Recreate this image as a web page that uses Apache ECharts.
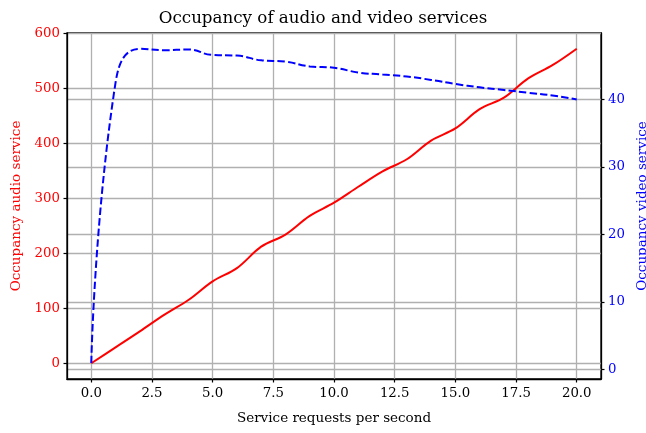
<!DOCTYPE html>
<html>
<head>
<meta charset="utf-8">
<script src="https://cdn.jsdelivr.net/npm/echarts@6/dist/echarts.min.js"></script>
<style>
  html, body { margin: 0; padding: 0; background: #fff; }
  #chart { width: 646px; height: 433px; }
</style>
</head>
<body>
<div id="chart"></div>
<script>
// Service request rate (requests per second)
const requestRates = [0, 1, 2, 3, 4, 5, 6, 7, 8, 9, 10, 11, 12, 13, 14, 15, 16, 17, 18, 19, 20];
// Occupancy of the audio service (left axis)
const audioOccupancy = [0, 29, 58, 88, 115, 149, 173, 212, 234, 268, 292, 321, 349, 371, 405, 427, 462, 483, 518, 542, 572];
// Occupancy of the video service (right axis)
const videoOccupancy = [0.95, 42.5, 47.5, 47.3, 47.4, 46.6, 46.5, 45.8, 45.6, 44.9, 44.7, 44.0, 43.7, 43.4, 42.9, 42.3, 41.8, 41.4, 41.0, 40.6, 40.0];
// Tick labels
const xTicks = [0, 2.5, 5, 7.5, 10, 12.5, 15, 17.5, 20];
const audioTicks = [0, 100, 200, 300, 400, 500, 600];
const videoTicks = [0, 10, 20, 30, 40];

const FONT = 'DejaVu Serif';
const TICK_FONT = 13.3;
const gridLine = { show: true, lineStyle: { color: '#b0b0b0', width: 1.3 } };
const tick = (vals) => ({ show: true, length: 3.5, customValues: vals, lineStyle: { color: '#000', width: 1.2 } });

const chart = echarts.init(document.getElementById('chart'), null, { renderer: 'canvas' });
chart.setOption({
  animation: false,
  backgroundColor: '#fff',
  title: {
    text: 'Occupancy of audio and video services',
    left: 'center', top: 5,
    textStyle: { fontFamily: FONT, fontSize: 16.7, fontWeight: 'normal', color: '#000' }
  },
  grid: {
    left: 67, right: 45, top: 33, bottom: 54,
    outerBoundsMode: 'none', containLabel: false,
    show: true, borderColor: '#000', borderWidth: 1.3, backgroundColor: 'transparent'
  },
  xAxis: {
    type: 'value', min: -1, max: 21,
    name: 'Service requests per second', nameLocation: 'middle', nameGap: 32,
    nameTextStyle: { fontFamily: FONT, fontSize: 13.5, color: '#000' },
    axisLine: { show: true, onZero: false, lineStyle: { color: '#000', width: 1.3 } },
    axisTick: tick(xTicks),
    axisLabel: { customValues: xTicks, margin: 8, fontFamily: FONT, fontSize: TICK_FONT, color: '#000',
      formatter: v => v.toFixed(1) },
    splitLine: gridLine
  },
  yAxis: [
    {
      type: 'value', position: 'left', min: -28.6, max: 600.6,
      name: 'Occupancy audio service', nameLocation: 'middle', nameGap: 43, nameRotate: 90,
      nameTextStyle: { fontFamily: FONT, fontSize: 13.5, color: '#ff0000' },
      axisLine: { show: true, onZero: false, lineStyle: { color: '#000', width: 1.3 } },
      axisTick: tick(audioTicks),
      axisLabel: { customValues: audioTicks, margin: 7, fontFamily: FONT, fontSize: TICK_FONT, color: '#ff0000' },
      splitLine: gridLine
    },
    {
      type: 'value', position: 'right', min: -1.42, max: 49.85,
      name: 'Occupancy video service', nameLocation: 'middle', nameGap: 32, nameRotate: 90,
      nameTextStyle: { fontFamily: FONT, fontSize: 13.5, color: '#0000ff' },
      axisLine: { show: true, onZero: false, lineStyle: { color: '#000', width: 1.3 } },
      axisTick: tick(videoTicks),
      axisLabel: { customValues: videoTicks, margin: 7, fontFamily: FONT, fontSize: TICK_FONT, color: '#0000ff' },
      splitLine: gridLine
    }
  ],
  series: [
    {
      type: 'line', yAxisIndex: 0, smooth: 0.35, symbol: 'none',
      data: requestRates.map((x, i) => [x, audioOccupancy[i]]),
      lineStyle: { color: '#ff0000', width: 2 }
    },
    {
      type: 'line', yAxisIndex: 1, smooth: 0.5, symbol: 'none',
      data: requestRates.map((x, i) => [x, videoOccupancy[i]]),
      lineStyle: { color: '#0000ff', width: 2, type: [7.4, 3.2] }
    }
  ]
});
</script>
</body>
</html>
